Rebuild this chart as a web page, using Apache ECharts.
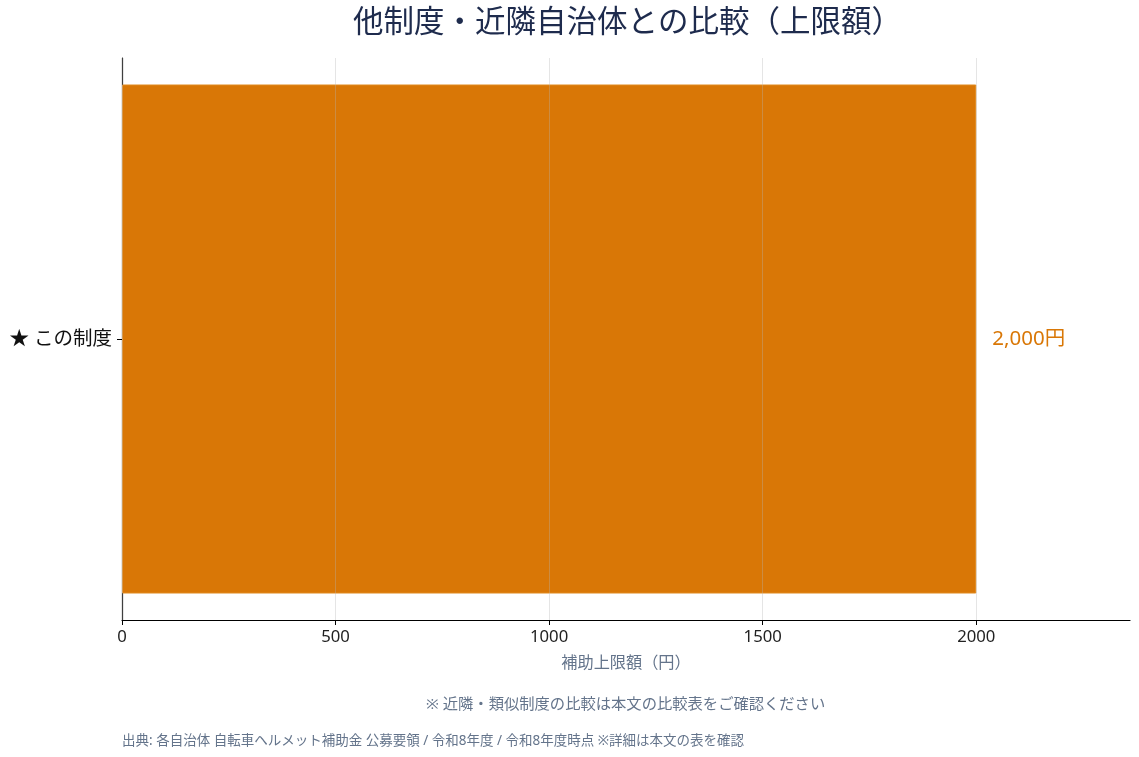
<!DOCTYPE html>
<html>
<head>
<meta charset="utf-8">
<script src="https://cdn.jsdelivr.net/npm/echarts@6/dist/echarts.min.js"></script>
<style>
  html, body { margin: 0; padding: 0; background: #fff; }
  #chart { width: 1139px; height: 757px; }
</style>
</head>
<body>
<div id="chart"></div>
<script>
const categories = ['★ この制度']
const values = [2000]
const xTicks = [0, 500, 1000, 1500, 2000]

const FONT = '"Noto Sans", "Noto Sans CJK JP", sans-serif'
const ORANGE = '#d97706'
const MUTED = '#64748b'

const chart = echarts.init(document.getElementById('chart'))

chart.setOption({
    animation: false,
    textStyle: { fontFamily: FONT },
    grid: { left: 122, right: 9, top: 58, bottom: 137 },
    xAxis: {
        type: 'value',
        min: 0,
        max: 2360,
        interval: 500,
        z: 3,
        name: '補助上限額（円）',
        nameLocation: 'middle',
        nameGap: 35,
        nameTextStyle: { color: MUTED, fontSize: 16.2, fontFamily: FONT },
        axisLine: { show: true, lineStyle: { color: '#000', width: 1.2 } },
        axisTick: { show: true, length: 5, customValues: xTicks, lineStyle: { color: '#000' } },
        axisLabel: {
            color: '#222',
            fontSize: 16.7,
            fontFamily: FONT,
            margin: 9,
            customValues: xTicks,
            formatter: v => String(v)
        },
        splitLine: { show: true, lineStyle: { color: 'rgba(180,180,180,0.35)', width: 1 } }
    },
    yAxis: {
        type: 'category',
        data: categories,
        axisLine: { show: true, lineStyle: { color: '#000', width: 1.2 } },
        axisTick: { show: true, alignWithLabel: true, length: 5, lineStyle: { color: '#000' } },
        axisLabel: { color: '#111', fontSize: 19.5, fontFamily: FONT, margin: 10, padding: [4, 0, 0, 0] },
        splitLine: { show: false }
    },
    series: [
        {
            type: 'bar',
            data: values,
            barWidth: 509,
            itemStyle: { color: ORANGE, borderColor: '#e08a1e', borderWidth: 1 },
            label: {
                show: true,
                position: 'right',
                distance: 16,
                color: ORANGE,
                fontSize: 20.5,
                fontFamily: FONT,
                formatter: p => p.value.toLocaleString('en-US') + '円'
            }
        }
    ],
    graphic: [
        {
            type: 'text',
            left: 353,
            top: 8,
            style: {
                text: '他制度・近隣自治体との比較（上限額）',
                fill: '#1e2b4d',
                font: '30.5px ' + FONT
            }
        },
        {
            type: 'text',
            left: 426,
            top: 697,
            style: {
                text: '※ 近隣・類似制度の比較は本文の比較表をご確認ください',
                fill: MUTED,
                font: '15.3px ' + FONT
            }
        },
        {
            type: 'text',
            left: 122,
            top: 734,
            style: {
                text: '出典: 各自治体 自転車ヘルメット補助金 公募要領 / 令和8年度 / 令和8年度時点 ※詳細は本文の表を確認',
                fill: MUTED,
                font: '13.5px ' + FONT
            }
        }
    ]
})
</script>
</body>
</html>
